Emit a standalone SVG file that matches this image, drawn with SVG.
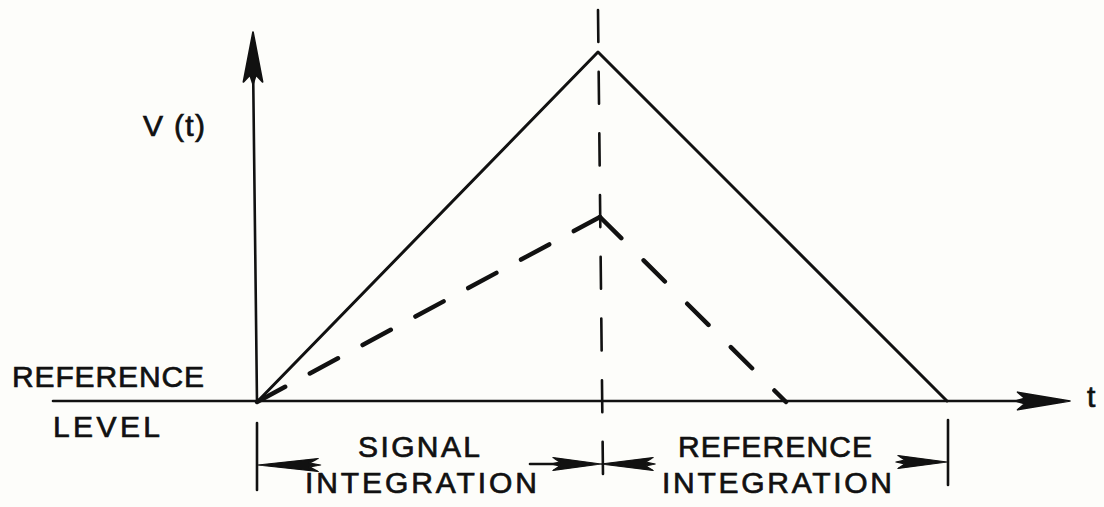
<svg xmlns="http://www.w3.org/2000/svg" xmlns:xlink="http://www.w3.org/1999/xlink" width="1104" height="507" viewBox="0 0 1104 507">
<style>
.bg{fill:#fdfdfa}
.ln{stroke:#111;fill:none;stroke-linecap:round;stroke-linejoin:round}
.ax{stroke-width:2.6}
.sol{stroke-width:3}
.dsh{stroke-width:4.5}
.vd{stroke-width:2.6;stroke-dasharray:32 29.7}
.lbl{font-family:"Liberation Sans",Arial,sans-serif;font-size:30px;fill:#111;stroke:#111;stroke-width:0.7}
.ah{fill:#111;stroke:#111;stroke-width:1.5;stroke-linejoin:round}
</style>
<defs>
<path id="arr" class="ah" d="M0,0 L-50,-8 L-43,-2.5 L-52,0 L-43,2.5 L-50,8 Z"/>
</defs>
<rect class="bg" x="0" y="0" width="1104" height="507"/>
<g id="connectors">
  <!-- axes -->
  <line class="ln ax" x1="53" y1="401" x2="1050" y2="401"/>
  <line class="ln ax" x1="257" y1="402" x2="253" y2="60"/>
  <use xlink:href="#arr" transform="translate(253,32) rotate(-90) scale(1,1.2)"/>
  <use xlink:href="#arr" transform="translate(1070,401) scale(1.05,1.1)"/>
  <!-- solid triangle -->
  <polyline class="ln sol" points="257,402 598,52 947,401"/>
  <!-- dashed triangle -->
  <line class="ln dsh" x1="257" y1="402" x2="600" y2="217" stroke-dasharray="32 28"/>
  <line class="ln dsh" x1="600" y1="217" x2="786" y2="402" stroke-dasharray="30 31.5"/>
  <!-- vertical dashed divider -->
  <line class="ln vd" x1="598" y1="10" x2="603" y2="477"/>
  <!-- dimension ticks -->
  <line class="ln ax" x1="257" y1="423" x2="257" y2="490"/>
  <line class="ln ax" x1="948" y1="420" x2="948" y2="485"/>
  <!-- dimension arrows -->
  <use xlink:href="#arr" transform="translate(258,465) rotate(180) scale(1.2,0.8)"/>
  <line class="ln ax" x1="530" y1="464" x2="560" y2="464"/>
  <use xlink:href="#arr" transform="translate(601,464) scale(0.96,0.8)"/>
  <use xlink:href="#arr" transform="translate(601,464) rotate(180) scale(1.04,0.8)"/>
  <use xlink:href="#arr" transform="translate(947,462) scale(0.98,0.8)"/>
</g>
<g id="label-vt"><text class="lbl" x="143" y="136" textLength="62" lengthAdjust="spacing">V (t)</text></g>
<g id="label-t"><text class="lbl" x="1087" y="407">t</text></g>
<g id="label-reflevel">
  <text class="lbl" x="12" y="387" textLength="192" lengthAdjust="spacing">REFERENCE</text>
  <text class="lbl" x="53" y="437" textLength="107" lengthAdjust="spacing">LEVEL</text>
</g>
<g id="label-signal">
  <text class="lbl" x="358" y="457" textLength="122" lengthAdjust="spacing">SIGNAL</text>
  <text class="lbl" x="305" y="493" textLength="232" lengthAdjust="spacing">INTEGRATION</text>
</g>
<g id="label-reference">
  <text class="lbl" x="678" y="457" textLength="194" lengthAdjust="spacing">REFERENCE</text>
  <text class="lbl" x="662" y="493" textLength="230" lengthAdjust="spacing">INTEGRATION</text>
</g>
</svg>
